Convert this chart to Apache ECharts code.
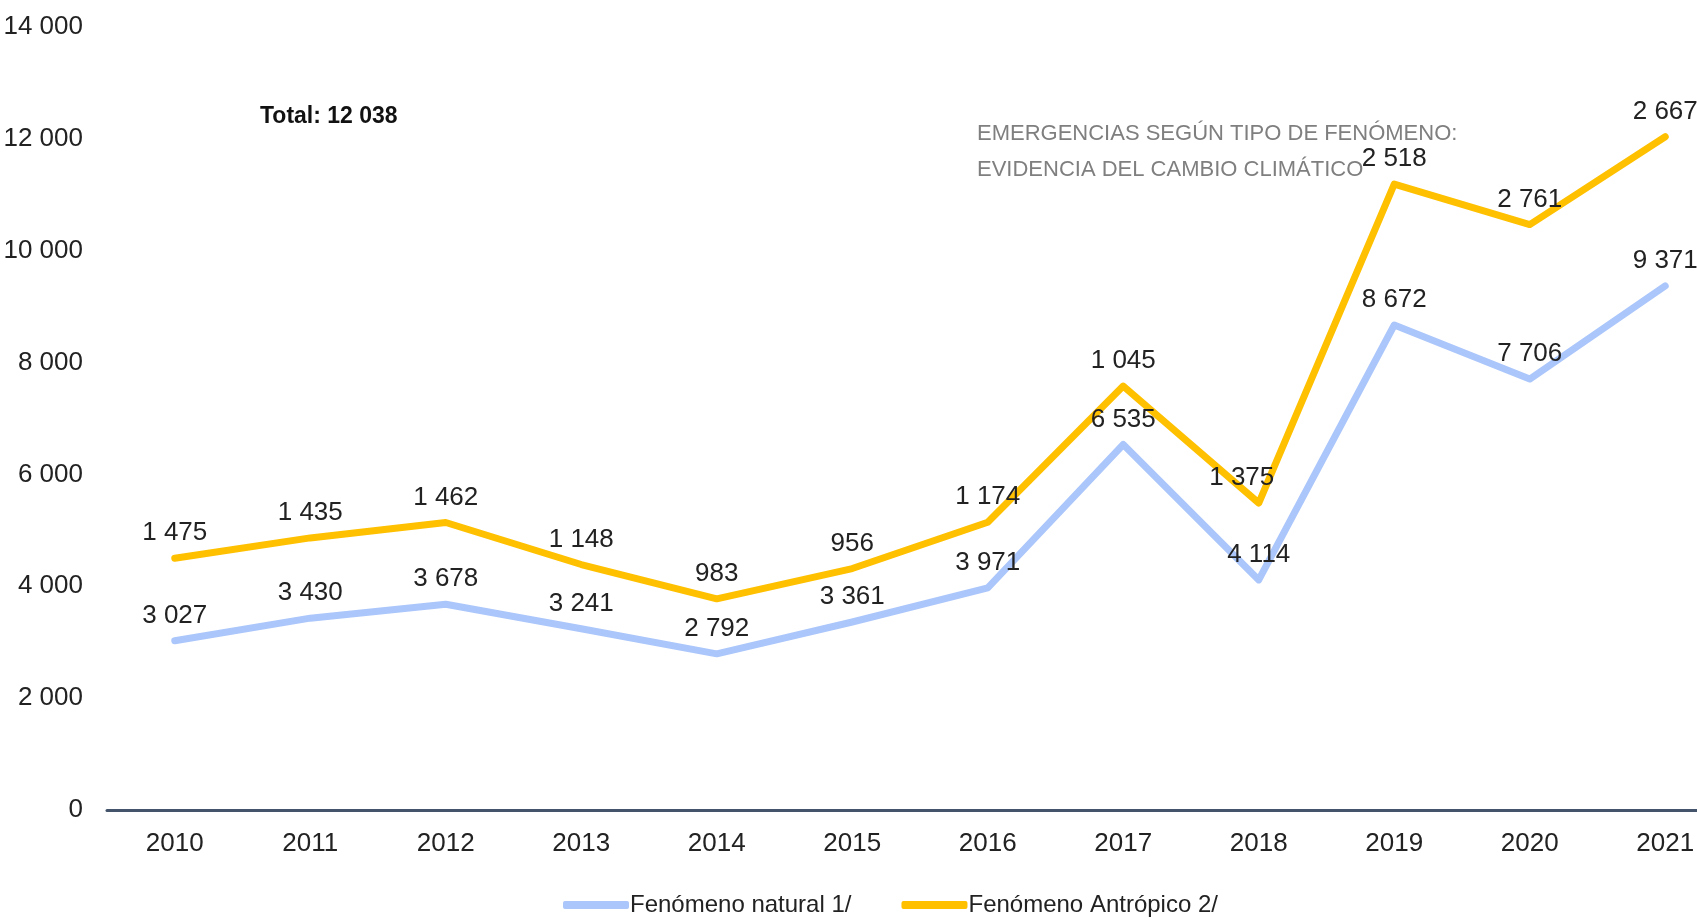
<!DOCTYPE html>
<html>
<head>
<meta charset="utf-8">
<script src="https://cdn.jsdelivr.net/npm/echarts@6/dist/echarts.min.js"></script>
<style>
  html, body { margin: 0; padding: 0; background: #fff; }
  #chart { width: 1697px; height: 918px; }
</style>
</head>
<body>
<div id="chart"></div>
<script>
const years = ['2010', '2011', '2012', '2013', '2014', '2015', '2016', '2017', '2018', '2019', '2020', '2021'];
const natural = [3027, 3430, 3678, 3241, 2792, 3361, 3971, 6535, 4114, 8672, 7706, 9371];
const antropico = [1475, 1435, 1462, 1148, 983, 956, 1174, 1045, 1375, 2518, 2761, 2667];
const totalText = 'Total: 12 038';
const titleLines = ['EMERGENCIAS SEGÚN TIPO DE FENÓMENO:', 'EVIDENCIA DEL CAMBIO CLIMÁTICO'];

const narrow = "'Liberation Sans Narrow', 'Arial Narrow', 'Liberation Sans', sans-serif";

// miles separados con espacio
function fmt(v) {
    return String(v).replace(/\B(?=(\d{3})+(?!\d))/g, ' ');
}

const chart = echarts.init(document.getElementById('chart'));

const labelStyle = {
    show: true,
    position: 'top',
    distance: 12,
    fontFamily: narrow,
    fontSize: 26,
    color: '#222',
    formatter: p => fmt(p.value)
};

const option = {
    animation: false,
    backgroundColor: '#fff',
    title: [
        {
            text: totalText,
            left: 255,
            top: 100,
            textStyle: { fontFamily: narrow, fontSize: 23, fontWeight: 'bold', color: '#111' }
        },
        {
            text: titleLines.join('\n'),
            left: 972,
            top: 111,
            textStyle: { fontFamily: narrow, fontSize: 22, fontWeight: 'normal', color: '#7f7f7f', lineHeight: 36 }
        }
    ],
    legend: {
        top: 888,
        left: 558,
        icon: 'roundRect',
        itemWidth: 66,
        itemHeight: 8,
        itemGap: 50,
        textStyle: { fontFamily: narrow, fontSize: 24, color: '#222', padding: [0, 0, 0, -4] },
        data: ['Fenómeno natural 1/', 'Fenómeno Antrópico 2/']
    },
    grid: {
        left: 107,
        top: 27,
        width: 1626,
        height: 783,
        outerBoundsMode: 'none'
    },
    xAxis: {
        type: 'category',
        data: years,
        boundaryGap: true,
        axisTick: { show: false },
        axisLine: { lineStyle: { color: '#44546a', width: 3 } },
        axisLabel: { fontFamily: narrow, fontSize: 26, color: '#222', margin: 21 }
    },
    yAxis: {
        type: 'value',
        min: 0,
        max: 14000,
        interval: 2000,
        splitLine: { show: false },
        axisLine: { show: false },
        axisTick: { show: false },
        axisLabel: { fontFamily: narrow, fontSize: 26, color: '#222', margin: 24, formatter: v => fmt(v) }
    },
    series: [
        {
            name: 'Fenómeno natural 1/',
            type: 'line',
            stack: 'total',
            data: natural,
            symbol: 'circle',
            symbolSize: 0.1,
            itemStyle: { color: '#abc6fb' },
            lineStyle: { width: 7, color: '#abc6fb', cap: 'round', join: 'round' },
            label: labelStyle
        },
        {
            name: 'Fenómeno Antrópico 2/',
            type: 'line',
            stack: 'total',
            data: antropico.map((v, i) => i === 8 ? { value: v, label: { offset: [-17, 0] } } : v),
            symbol: 'circle',
            symbolSize: 0.1,
            itemStyle: { color: '#ffc000' },
            lineStyle: { width: 7, color: '#ffc000', cap: 'round', join: 'round' },
            label: labelStyle
        }
    ]
};

chart.setOption(option);
</script>
</body>
</html>
